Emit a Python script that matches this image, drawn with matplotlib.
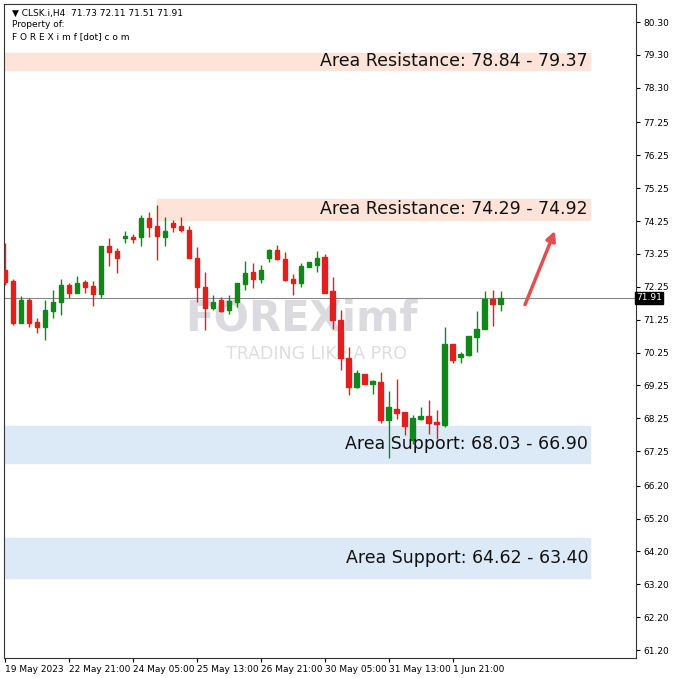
import numpy as np
import matplotlib.pyplot as plt
from matplotlib.patches import Rectangle

# CLSK H4 candles
opens = [72.76, 72.43, 71.16, 71.85, 71.17, 71.04, 71.51, 71.78, 72.30, 72.07,
         72.40, 72.27, 72.03, 73.49, 73.33, 73.72, 73.77, 73.75, 74.33, 74.10,
         73.77, 74.20, 74.10, 73.97, 73.11, 72.23, 71.59, 71.85, 71.54, 71.79,
         72.32, 72.70, 72.50, 73.11, 73.36, 73.08, 72.48, 72.37, 72.84, 72.91,
         73.16, 72.13, 71.24, 70.07, 69.19, 69.59, 69.29, 69.34, 68.19, 68.53,
         68.45, 67.58, 68.22, 68.31, 68.14, 68.04, 70.52, 70.12, 70.17, 70.73,
         70.96, 71.89, 71.73]
highs = [73.57, 72.50, 71.98, 71.90, 71.29, 71.85, 72.15, 72.49, 72.35, 72.58,
         72.45, 72.42, 73.49, 73.72, 73.42, 73.94, 73.85, 74.43, 74.51, 74.73,
         74.38, 74.28, 74.36, 74.10, 73.47, 72.71, 72.00, 71.93, 72.00, 72.35,
         73.03, 72.96, 72.91, 73.41, 73.52, 73.31, 72.65, 72.96, 72.99, 73.34,
         73.24, 72.55, 71.54, 70.42, 69.73, 69.61, 69.41, 69.66, 69.08, 69.46,
         68.45, 68.34, 68.60, 68.80, 68.50, 71.03, 70.52, 70.27, 70.75, 71.52,
         72.13, 72.15, 72.11]
lows = [72.30, 71.10, 71.14, 71.04, 70.85, 70.63, 71.31, 71.39, 71.90, 72.05,
        72.07, 71.66, 71.90, 72.88, 72.66, 73.57, 73.57, 73.50, 73.75, 73.06,
        73.50, 73.92, 73.92, 73.14, 71.79, 70.93, 71.54, 71.49, 71.41, 71.62,
        72.15, 72.20, 72.35, 73.01, 73.06, 72.43, 71.99, 72.25, 72.84, 72.70,
        72.07, 70.98, 69.71, 68.95, 69.16, 69.29, 69.00, 68.11, 67.04, 68.24,
        67.74, 67.48, 68.19, 67.77, 67.63, 67.99, 69.94, 69.94, 70.14, 70.27,
        70.96, 71.05, 71.51]
closes = [72.40, 71.16, 71.85, 71.16, 71.04, 71.54, 71.78, 72.30, 72.07, 72.38,
          72.25, 72.03, 73.49, 73.31, 73.14, 73.79, 73.70, 74.35, 74.08, 73.79,
          73.94, 74.08, 73.97, 73.14, 72.25, 71.59, 71.79, 71.52, 71.81, 72.35,
          72.68, 72.48, 72.77, 73.36, 73.08, 72.45, 72.37, 72.89, 72.99, 73.14,
          72.07, 71.24, 70.07, 69.19, 69.64, 69.29, 69.39, 68.19, 68.60, 68.42,
          68.01, 68.27, 68.32, 68.11, 68.09, 70.52, 70.02, 70.22, 70.75, 70.98,
          71.89, 71.72, 71.91]

price_ticks = [80.30, 79.30, 78.30, 77.25, 76.25, 75.25, 74.25, 73.25, 72.25, 71.25,
               70.25, 69.25, 68.25, 67.25, 66.20, 65.20, 64.20, 63.20, 62.20, 61.20]
time_idx = [0, 8, 16, 24, 32, 40, 48, 56]
time_labels = ['19 May 2023', '22 May 21:00', '24 May 05:00', '25 May 13:00',
               '26 May 21:00', '30 May 05:00', '31 May 13:00', '1 Jun 21:00']

# zones: (low, high, start index, label, kind)
zones = [(78.84, 79.37, -1, 'Area Resistance: 78.84 - 79.37', 'res'),
         (74.29, 74.92, 19, 'Area Resistance: 74.29 - 74.92', 'res'),
         (66.90, 68.03, -1, 'Area Support: 68.03 - 66.90', 'sup'),
         (63.40, 64.62, -1, 'Area Support: 64.62 - 63.40', 'sup')]
last_price = 71.91

fig = plt.figure(figsize=(6.78, 6.78), dpi=100)
ax = fig.add_axes([4 / 678, 20 / 678, 632 / 678, 654 / 678])
ax.set_xlim(-0.125, 78.9)
ax.set_ylim(60.96, 80.85)

zone_end = 73.1
for lo, hi, start, label, kind in zones:
    col = '#fde3d8' if kind == 'res' else '#dceaf8'
    ax.add_patch(Rectangle((start, lo), zone_end - start, hi - lo, color=col, zorder=1))
    ax.text(zone_end - 0.2, (lo + hi) / 2, label, ha='right', va='center',
            fontsize=12.5, color='#111111', zorder=5)

ax.axhline(last_price, color='#888888', lw=0.8, zorder=2)

ax.text(37, 71.3, 'FOREXimf', fontsize=30, fontweight='bold', color='#d6d6dc',
        ha='center', va='center', alpha=0.9, zorder=1.5)
ax.text(39, 70.2, 'TRADING LIKE A PRO', fontsize=12.5, color='#dddde2',
        ha='center', va='center', zorder=1.5)

for i in range(len(opens)):
    o, h, l, c = opens[i], highs[i], lows[i], closes[i]
    col = '#0b8a1a' if c >= o else '#e0201c'
    ax.vlines(i, l, h, color=col, lw=1, zorder=3)
    ax.add_patch(Rectangle((i - 0.3, min(o, c)), 0.6, max(abs(c - o), 0.03),
                           color=col, zorder=4))

ax.annotate('', xy=(68.9, 74.03), xytext=(64.9, 71.63),
            arrowprops=dict(arrowstyle='-|>', color='#e05050', lw=2.5,
                            mutation_scale=14), zorder=6)

ax.yaxis.tick_right()
ax.set_yticks(price_ticks)
ax.set_yticklabels(['%.2f' % p for p in price_ticks], fontsize=6.5)
ax.tick_params(axis='y', length=3, pad=2)
ax.set_xticks(time_idx)
ax.set_xticklabels(time_labels, fontsize=6.5, ha='left')
ax.tick_params(axis='x', length=3, pad=2)
for s in ax.spines.values():
    s.set_color('#333333')
    s.set_linewidth(0.8)

ax.text(78.9, last_price, '%.2f' % last_price, fontsize=6.5, color='white',
        va='center', ha='left', transform=ax.transData, clip_on=False,
        bbox=dict(boxstyle='square,pad=0.15', fc='black', ec='black'))

ax.text(0.012, 0.993, '\u25bc CLSK.i,H4  71.73 72.11 71.51 71.91', transform=ax.transAxes,
        fontsize=6.5, va='top')
ax.text(0.012, 0.975, 'Property of:', transform=ax.transAxes, fontsize=6.5, va='top')
ax.text(0.012, 0.957, 'F O R E X i m f [dot] c o m', transform=ax.transAxes,
        fontsize=6.5, va='top')

plt.savefig('out.png', dpi=100)
plt.close()
